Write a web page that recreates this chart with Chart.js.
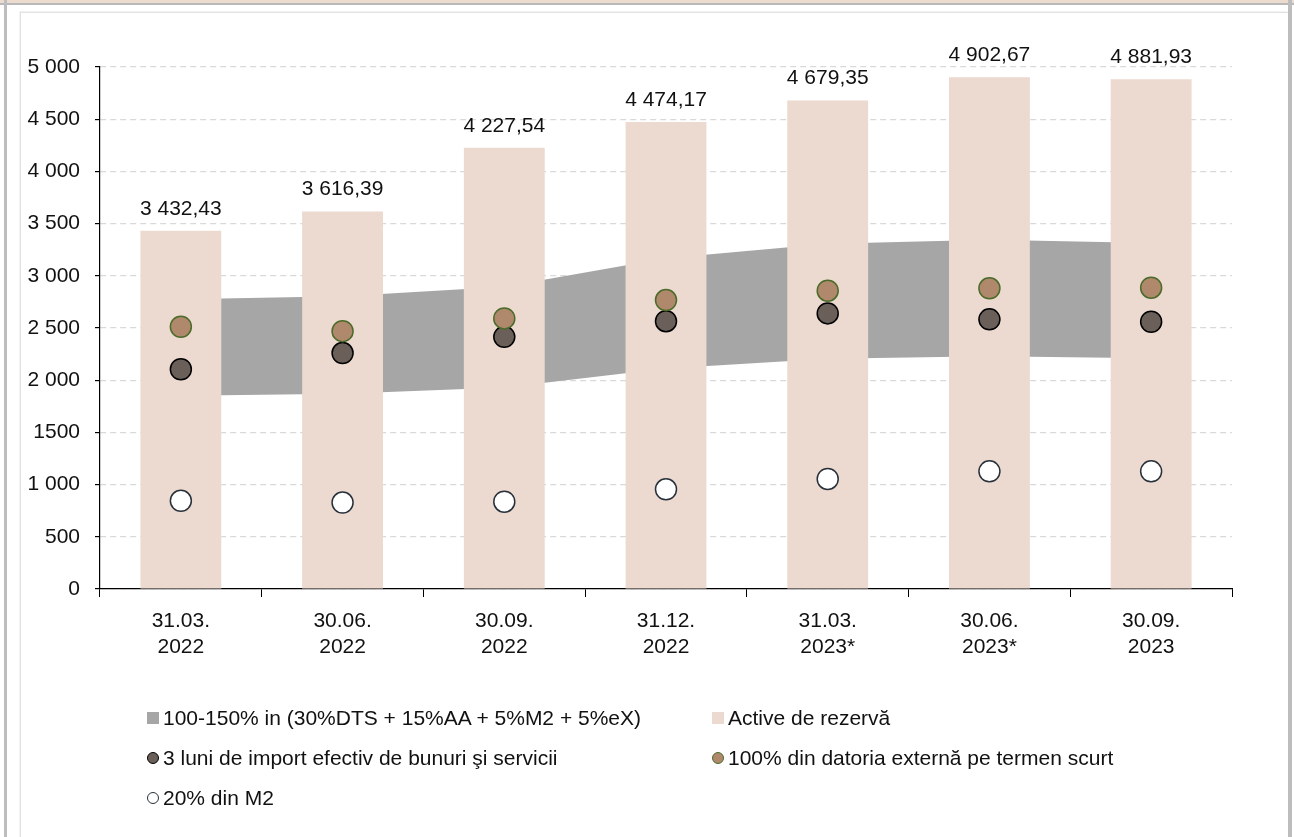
<!DOCTYPE html>
<html>
<head>
<meta charset="utf-8">
<script src="https://cdn.jsdelivr.net/npm/chart.js@4.4.1/dist/chart.umd.min.js"></script>
<style>
  html, body { margin: 0; padding: 0; background: #ffffff; }
  body { width: 1294px; height: 837px; position: relative; overflow: hidden;
         font-family: "Liberation Sans", sans-serif; }
  #topStrip { position: absolute; left: 0; top: 0; width: 1294px; height: 3px; background: #ecdcd0; }
  #topLine { position: absolute; left: 0; top: 3px; width: 1294px; height: 2px; background: #b9b9b9; }
  #leftBar { position: absolute; left: 4px; top: 0; width: 3px; height: 837px; background: #bdbdbd; }
  #rightBar { position: absolute; left: 1288px; top: 0; width: 4px; height: 837px; background: #bdbdbd; }
  #panel { position: absolute; left: 20px; top: 12px; width: 1267px; height: 840px;
           border-left: 1px solid #e2e2e2; border-top: 1px solid #e2e2e2; box-shadow: -1px -1px 0 #f3f3f3; }
  #wrap { position: absolute; left: 0; top: 0; width: 1294px; height: 837px; }
  #legend { position: absolute; left: 0; top: 0; width: 1294px; height: 837px; pointer-events: none; }
  .li { position: absolute; font-size: 21px; color: #111; white-space: nowrap; line-height: 24px; }
  .mk { position: absolute; box-sizing: border-box; }
</style>
</head>
<body>
<div id="topStrip"></div>
<div id="topLine"></div>
<div id="leftBar"></div>
<div id="rightBar"></div>
<div id="panel"></div>
<div id="wrap"><canvas id="c" width="1294" height="837"></canvas></div>
<div id="legend"></div>
<script>
// ---- data ----
const categories = [
  ['31.03.', '2022'], ['30.06.', '2022'], ['30.09.', '2022'], ['31.12.', '2022'],
  ['31.03.', '2023*'], ['30.06.', '2023*'], ['30.09.', '2023']
];
const reserveAssets = [3432.43, 3616.39, 4227.54, 4474.17, 4679.35, 4902.67, 4881.93];
const bandLower = [1850, 1870, 1930, 2112, 2205, 2230, 2210];   // 100% of metric
const bandUpper = [2775, 2805, 2895, 3168, 3307, 3345, 3315];   // 150% of metric
const importCover = [2105, 2260, 2415, 2565, 2640, 2583, 2560];
const shortTermDebt = [2512, 2470, 2592, 2768, 2857, 2880, 2886];
const m2Share = [845, 828, 836, 955, 1054, 1127, 1127];
const yTickValues = [0, 500, 1000, 1500, 2000, 2500, 3000, 3500, 4000, 4500, 5000];
const yTickLabels = ['0', '500', '1 000', '1500', '2 000', '2 500', '3 000', '3 500', '4 000', '4 500', '5 000'];

const seriesNames = {
  band: '100-150% in (30%DTS + 15%AA + 5%M2 + 5%eX)',
  reserve: 'Active de rezervă',
  imports: '3 luni de import efectiv de bunuri şi servicii',
  debt: '100% din datoria externă pe termen scurt',
  m2: '20% din M2'
};

const FONT = '"Liberation Sans", sans-serif';
const colors = {
  band: '#a6a6a6', bar: '#ecdad0',
  impFill: '#6b5f5a', impBorder: '#000000',
  debtFill: '#b0896c', debtBorder: '#4b6b2a',
  m2Fill: '#ffffff', m2Border: '#28303a'
};

function fmt(v) {
  const parts = v.toFixed(2).split('.');
  const intp = parts[0].replace(/\B(?=(\d{3})+(?!\d))/g, ' ');
  return intp + ',' + parts[1];
}

const barLabelPlugin = {
  id: 'barLabels',
  afterDatasetsDraw(chart) {
    const ctx = chart.ctx;
    const meta = chart.getDatasetMeta(2);
    ctx.save();
    ctx.font = '21px ' + FONT;
    ctx.fillStyle = '#111';
    ctx.textAlign = 'center';
    ctx.textBaseline = 'alphabetic';
    meta.data.forEach((el, i) => {
      ctx.fillText(fmt(reserveAssets[i]), el.x, el.y - 16);
    });
    ctx.restore();
  }
};

const pointDs = (label, data, fill, border, order) => ({
  type: 'line', label, data, showLine: false,
  pointRadius: 10.5, pointHoverRadius: 10.5, pointBorderWidth: 1.5,
  pointBackgroundColor: fill, pointBorderColor: border,
  backgroundColor: fill, borderColor: border, order
});

const chart = new Chart(document.getElementById('c'), {
  data: {
    labels: categories,
    datasets: [
      { type: 'line', label: 'lower', data: bandLower, borderWidth: 0, pointRadius: 0,
        borderColor: 'rgba(0,0,0,0)', backgroundColor: colors.band, fill: false, tension: 0, order: 10 },
      { type: 'line', label: seriesNames.band, data: bandUpper, borderWidth: 0, pointRadius: 0,
        borderColor: 'rgba(0,0,0,0)', backgroundColor: colors.band, fill: '-1', tension: 0, order: 9 },
      { type: 'bar', label: seriesNames.reserve, data: reserveAssets, backgroundColor: colors.bar,
        borderWidth: 0, barPercentage: 1.0, categoryPercentage: 0.5, order: 5 },
      pointDs(seriesNames.imports, importCover, colors.impFill, colors.impBorder, 3),
      pointDs(seriesNames.debt, shortTermDebt, colors.debtFill, colors.debtBorder, 2),
      pointDs(seriesNames.m2, m2Share, colors.m2Fill, colors.m2Border, 1)
    ]
  },
  options: {
    responsive: false,
    animation: false,
    layout: { padding: { left: 0, top: 67, right: 62, bottom: 158 } },
    plugins: { legend: { display: false }, tooltip: { enabled: false } },
    scales: {
      x: {
        type: 'category',
        offset: true,
        grid: { offset: true, drawOnChartArea: false, tickLength: 8, tickColor: '#000', color: '#000' },
        border: { display: true, color: '#000', width: 1.2 },
        ticks: { font: { family: FONT, size: 21, lineHeight: 1.2 }, color: '#111', padding: 12, maxRotation: 0, autoSkip: false },
        afterFit(s) { s.height = 90; }
      },
      y: {
        min: 0, max: 5000,
        afterBuildTicks(s) { s.ticks = yTickValues.map(v => ({ value: v })); },
        grid: { color: '#d9d9d9', lineWidth: 1.2, tickLength: 5, tickColor: '#000', drawTicks: true },
        border: { display: true, color: '#000', width: 1.2, dash: [6, 4] },
        ticks: {
          font: { family: FONT, size: 21 }, color: '#111', padding: 15,
          callback: (v, i) => yTickLabels[i]
        },
        afterFit(s) { s.width = 100; }
      }
    }
  },
  plugins: [barLabelPlugin]
});

// ---- HTML legend built from chart datasets ----
const legendEl = document.getElementById('legend');
const ds = chart.data.datasets;
const legendItems = [
  { ds: ds[1], kind: 'square', fill: colors.band, border: colors.band, x: 147, y: 718 },
  { ds: ds[2], kind: 'square', fill: colors.bar, border: colors.bar, x: 712, y: 718 },
  { ds: ds[3], kind: 'circle', fill: colors.impFill, border: colors.impBorder, x: 147, y: 758 },
  { ds: ds[4], kind: 'circle', fill: colors.debtFill, border: colors.debtBorder, x: 712, y: 758 },
  { ds: ds[5], kind: 'circle', fill: colors.m2Fill, border: colors.m2Border, x: 147, y: 798 }
];
legendItems.forEach(it => {
  const mk = document.createElement('div');
  mk.className = 'mk';
  mk.style.left = it.x + 'px';
  mk.style.top = (it.y - 6) + 'px';
  mk.style.width = '12px';
  mk.style.height = '12px';
  mk.style.background = it.fill;
  if (it.kind === 'circle') {
    mk.style.borderRadius = '50%';
    mk.style.border = '1.3px solid ' + it.border;
  }
  legendEl.appendChild(mk);
  const t = document.createElement('div');
  t.className = 'li';
  t.style.left = (it.x + 16) + 'px';
  t.style.top = (it.y - 12) + 'px';
  t.textContent = it.ds.label;
  legendEl.appendChild(t);
});
</script>
</body>
</html>
